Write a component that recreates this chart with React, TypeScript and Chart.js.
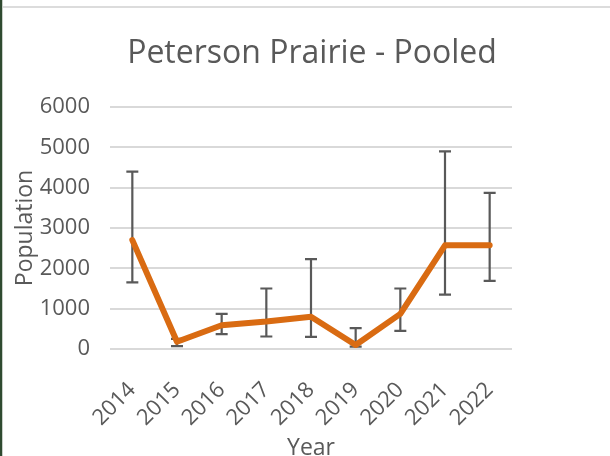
import React, { useEffect, useRef } from "react";
import { Chart, registerables } from "chart.js";

Chart.register(...registerables);

const chartTitle = "Peterson Prairie - Pooled";
const years = ["2014", "2015", "2016", "2017", "2018", "2019", "2020", "2021", "2022"];
const population = [2700, 180, 590, 680, 800, 100, 870, 2570, 2570];
const errLow = [1650, 70, 370, 310, 300, 60, 450, 1350, 1690];
const errHigh = [4400, 250, 870, 1500, 2230, 520, 1500, 4900, 3870];
const yTicks = [0, 1000, 2000, 3000, 4000, 5000, 6000];

const FONT = "'Open Sans', 'Noto Sans', sans-serif";
const TEXT = "#595959";

const errorBarPlugin = {
  id: "errorBars",
  beforeDatasetsDraw(chart: any) {
    const { ctx, scales } = chart;
    const x = scales.x;
    const y = scales.y;
    ctx.save();
    ctx.strokeStyle = "#595959";
    ctx.lineWidth = 2.2;
    ctx.lineCap = "butt";
    for (let i = 0; i < years.length; i++) {
      const px = x.getPixelForValue(i);
      const yl = y.getPixelForValue(errLow[i]);
      const yh = y.getPixelForValue(errHigh[i]);
      ctx.beginPath();
      ctx.moveTo(px, yl);
      ctx.lineTo(px, yh);
      ctx.moveTo(px - 6, yl);
      ctx.lineTo(px + 6, yl);
      ctx.moveTo(px - 6, yh);
      ctx.lineTo(px + 6, yh);
      ctx.stroke();
    }
    ctx.restore();
  },
};

export default function App() {
  const ref = useRef<HTMLCanvasElement | null>(null);
  useEffect(() => {
    if (!ref.current) return;
    const chart = new Chart(ref.current, {
      type: "line",
      data: {
        labels: years,
        datasets: [
          {
            data: population,
            borderColor: "#D96B12",
            borderWidth: 6,
            pointRadius: 0,
            borderCapStyle: "round",
            borderJoinStyle: "round",
            tension: 0,
            fill: false,
          },
        ],
      },
      plugins: [errorBarPlugin],
      options: {
        responsive: false,
        animation: false,
        devicePixelRatio: 1,
        layout: { padding: { top: 0, left: 14, right: 0, bottom: 0 } },
        plugins: {
          legend: { display: false },
          tooltip: { enabled: false },
          title: {
            display: true,
            text: chartTitle,
            color: TEXT,
            font: { family: FONT, size: 32, weight: "normal" },
            padding: { top: 35, bottom: 33.6 },
          },
        },
        scales: {
          x: {
            type: "category",
            offset: true,
            grid: { display: false },
            border: { display: false },
            ticks: {
              color: TEXT,
              font: { family: FONT, size: 22 },
              minRotation: 45,
              maxRotation: 45,
              autoSkip: false,
              padding: 20,
            },
            title: {
              display: true,
              text: "Year",
              color: TEXT,
              font: { family: FONT, size: 23 },
              padding: { top: 0, bottom: -6 },
            },
            afterFit: (s: any) => {
              s.height = 107;
            },
          },
          y: {
            min: 0,
            max: 6000,
            afterBuildTicks: (s: any) => {
              s.ticks = yTicks.map((v) => ({ value: v }));
            },
            grid: { color: "#D9D9D9", lineWidth: 2, drawTicks: false },
            border: { display: false },
            ticks: {
              color: TEXT,
              font: { family: FONT, size: 22 },
              padding: 20,
              callback: (v: any) => String(v),
            },
            title: {
              display: true,
              text: "Population",
              color: TEXT,
              font: { family: FONT, size: 23 },
              padding: { top: -2, bottom: 0 },
            },
            afterFit: (s: any) => {
              s.width = 96;
            },
          },
          y2: {
            position: "right",
            display: true,
            grid: { display: false },
            border: { display: false },
            ticks: { display: false },
            afterFit: (s: any) => {
              s.width = 98;
            },
          },
        },
      },
    } as any);
    return () => chart.destroy();
  }, []);

  return (
    <div style={{ position: "fixed", left: 0, top: 0, width: 610, height: 456, background: "#fff", overflow: "hidden" }}>
      <canvas ref={ref} width={610} height={456} style={{ display: "block", width: 610, height: 456 }} />
      <div style={{ position: "absolute", left: 0, top: 0, width: 2, height: 456, background: "#2f4a30" }} />
      <div style={{ position: "absolute", left: 2, top: 0, width: 1, height: 456, background: "#c8cfc8" }} />
      <div style={{ position: "absolute", left: 3, top: 6, width: 607, height: 2, background: "#dcdcdc" }} />
    </div>
  );
}
